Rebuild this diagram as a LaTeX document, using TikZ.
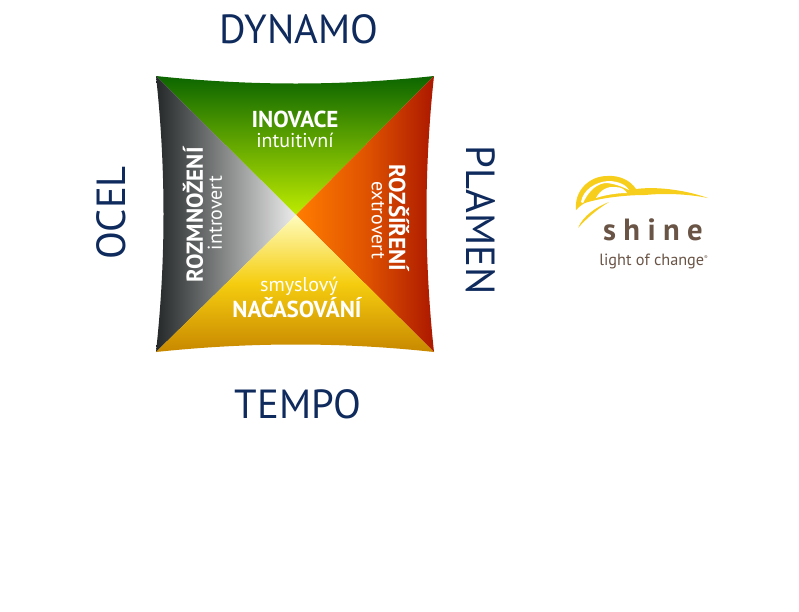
\documentclass[tikz,border=0pt]{standalone}
\usepackage{fontspec}
\setmainfont{PT Sans}
\usetikzlibrary{positioning}
\definecolor{navy}{HTML}{0F2A5C}
\definecolor{shinebrown}{HTML}{6A5446}
\definecolor{shineyellow}{HTML}{F6CE1B}
\tikzset{
    outerlabel/.style={text=navy, font=\fontsize{30.5}{31}\selectfont, inner sep=0pt},
    mainlabel/.style={text=white, font=\fontsize{17.3}{19}\selectfont\bfseries, inner sep=0pt},
    sublabel/.style={text=white, font=\fontsize{15}{17}\selectfont, inner sep=0pt},
}
\begin{document}
\begin{tikzpicture}[x=0.75pt,y=-0.75pt]
    \useasboundingbox (0,0) rectangle (799,611);

    \shade[top color={rgb,255:red,12;green,102;blue,0}, bottom color={rgb,255:red,190;green,235;blue,0}]
        (156,76) .. controls (250,86) and (342,86) .. (434,76) -- (296,215) -- cycle;
    \shade[left color={rgb,255:red,36;green,40;blue,40}, right color={rgb,255:red,236;green,236;blue,236}]
        (156,76) .. controls (166,168) and (166,260) .. (156,352) -- (296,215) -- cycle;
    \shade[left color={rgb,255:red,255;green,124;blue,0}, right color={rgb,255:red,172;green,24;blue,0}, middle color={rgb,255:red,224;green,84;blue,0}]
        (434,76) .. controls (424,168) and (424,260) .. (434,352) -- (296,215) -- cycle;
    \shade[top color={rgb,255:red,255;green,252;blue,190}, bottom color={rgb,255:red,200;green,136;blue,0}, middle color={rgb,255:red,245;green,205;blue,15}]
        (156,352) .. controls (250,342) and (342,342) .. (434,352) -- (296,215) -- cycle;

    \node[outerlabel] (dynamo) at (299,29) {DYNAMO};
    \node[outerlabel] (tempo) at (298,404) {TEMPO};
    \node[outerlabel, rotate=90] (ocel) at (111,213) {OCEL};
    \node[outerlabel, rotate=-90] (plamen) at (481,220) {PLAMEN};

    \node[mainlabel] (inovace) at (295,119) {INOVACE};
    \node[sublabel] (intuitivni) at (295,140) {intuitivní};
    \node[sublabel] (smyslovy) at (299,286) {smyslový};
    \node[mainlabel] (nacasovani) at (297,308) {NAČASOVÁNÍ};
    \node[mainlabel, rotate=90] (rozmnozeni) at (193,215) {ROZMNOŽENÍ};
    \node[sublabel, rotate=90] (introvert) at (215,213) {introvert};
    \node[mainlabel, rotate=-90] (rozsireni) at (399,218) {ROZŠÍŘENÍ};
    \node[sublabel, rotate=-90] (extrovert) at (378,220) {extrovert};

    % logo
    \fill[shineyellow] (576,210) .. controls (574,190) and (590,176) .. (607,176)
        .. controls (620,175) and (631,181) .. (636,189)
        .. controls (660,186) and (688,191) .. (708,198)
        .. controls (688,194) and (665,193) .. (645,195)
        .. controls (625,195) and (600,198) .. (585,203)
        .. controls (581,205) and (578,208) .. (576,210) -- cycle;
    \fill[shineyellow] (578,228) .. controls (583,216) and (596,207) .. (609,202)
        .. controls (596,210) and (586,219) .. (578,228) -- cycle;
    \fill[white] (581,202) .. controls (583,190) and (595,182) .. (608,181)
        .. controls (620,181) and (627,186) .. (629,190)
        .. controls (623,187) and (613,183) .. (605,183)
        .. controls (593,185) and (587,195) .. (583,203) -- cycle;
    \fill[white] (596,198) .. controls (600,190) and (608,186) .. (615,187)
        .. controls (622,187) and (625,190) .. (627,193)
        .. controls (617,193) and (605,195) .. (596,198) -- cycle;
    \node[text=shinebrown, font=\fontsize{23}{23}\selectfont\bfseries\addfontfeature{LetterSpace=24}, inner sep=0pt] (shine) at (653,230) {shine};
    \node[text=shinebrown, font=\fontsize{12.2}{14}\selectfont, inner sep=0pt] (tagline) at (654,261) {light of change\textsuperscript{\fontsize{4}{4}\selectfont ®}};
\end{tikzpicture}
\end{document}
